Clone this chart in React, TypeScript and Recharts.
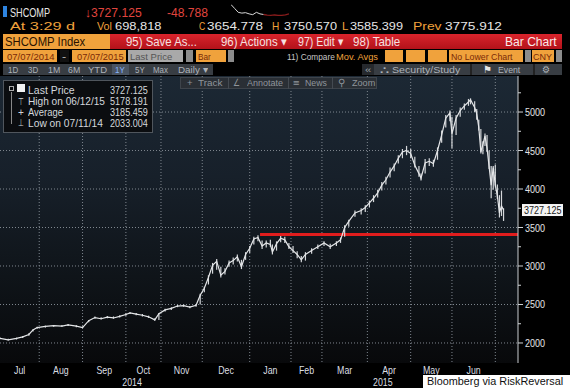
import React, { useLayoutEffect, useRef, useState } from "react";
import { ComposedChart, LineChart, Line, XAxis, YAxis, CartesianGrid, ReferenceLine, ErrorBar } from "recharts";

// trading-day index since 07/07/2014
const days = [
  0, 4, 8, 11, 14, 16, 18, 22, 26, 30, 33, 37, 40, 43, 46, 49, 52, 55, 58, 61,
  63, 66, 69, 72, 75, 77, 80, 83, 86, 89, 92, 95, 97, 99, 101, 103, 105, 107, 109, 111,
  113, 115, 117, 119, 121, 123, 125, 127, 129, 131, 132, 134, 136, 138, 140, 142, 144, 146, 148, 151,
  154, 157, 160, 163, 165, 167, 169, 172, 175, 177, 179, 181, 183, 185, 187, 189, 191, 193, 195, 197,
  199, 201, 203, 204, 206, 208, 210, 212, 214, 216, 218, 219, 221, 223, 225, 227, 228, 230, 231, 232,
  233, 234, 235, 236, 237, 238, 239, 240, 241, 242, 243, 244,
];
const closes = [
  2060, 2040, 2060, 2080, 2110, 2170, 2200, 2215, 2225, 2220, 2235, 2220, 2200, 2290, 2330, 2315, 2335, 2325, 2345, 2370,
  2390, 2375, 2360, 2340, 2300, 2380, 2430, 2450, 2480, 2485, 2465, 2490, 2620, 2710, 2850, 3010, 3060, 2880, 2930, 3040,
  3070, 3120, 2990, 3150, 3230, 3350, 3370, 3260, 3300, 3280, 3180, 3290, 3360, 3340, 3250, 3200, 3150, 3080, 3150, 3200,
  3250, 3300, 3250, 3300, 3340, 3500, 3580, 3690, 3720, 3760, 3820, 3880, 3950, 4050, 4120, 4220, 4300, 4400, 4480, 4500,
  4460, 4310, 4200, 4140, 4340, 4360, 4330, 4500, 4700, 4920, 4990, 4720, 4920, 5020, 5080, 5130, 5160, 5060, 4980, 4800,
  4480, 4580, 4690, 4530, 4290, 4050, 4280, 4050, 3910, 3690, 3780, 3727,
];
const highs = [
  2070, 2055, 2070, 2090, 2125, 2180, 2210, 2225, 2235, 2235, 2245, 2230, 2215, 2300, 2345, 2335, 2350, 2345, 2360, 2385,
  2400, 2390, 2375, 2355, 2320, 2390, 2445, 2465, 2495, 2500, 2480, 2500, 2640, 2730, 2880, 3040, 3090, 2990, 2970, 3070,
  3110, 3150, 3080, 3180, 3260, 3380, 3400, 3330, 3330, 3340, 3280, 3320, 3390, 3380, 3300, 3260, 3190, 3130, 3180, 3230,
  3280, 3320, 3290, 3320, 3370, 3530, 3600, 3720, 3750, 3790, 3850, 3920, 3990, 4090, 4160, 4280, 4330, 4440, 4520, 4560,
  4520, 4420, 4300, 4200, 4390, 4400, 4380, 4540, 4760, 4960, 5020, 4940, 4960, 5060, 5110, 5170, 5178, 5140, 5040, 4900,
  4780, 4620, 4720, 4700, 4500, 4300, 4300, 4320, 4060, 3920, 3980, 3750,
];
const lows = [
  2050, 2033, 2045, 2065, 2095, 2150, 2185, 2200, 2210, 2210, 2220, 2205, 2195, 2270, 2315, 2305, 2320, 2315, 2330, 2355,
  2375, 2360, 2345, 2325, 2290, 2300, 2410, 2430, 2465, 2470, 2450, 2470, 2500, 2660, 2760, 2900, 2950, 2850, 2890, 2990,
  3020, 3060, 2960, 3080, 3170, 3280, 3320, 3220, 3240, 3250, 3150, 3200, 3310, 3300, 3220, 3170, 3100, 3050, 3070, 3160,
  3220, 3260, 3220, 3260, 3300, 3380, 3510, 3640, 3670, 3700, 3760, 3830, 3890, 3980, 4060, 4150, 4230, 4330, 4400, 4440,
  4400, 4280, 4160, 4110, 4200, 4300, 4290, 4380, 4600, 4800, 4880, 4530, 4700, 4940, 5030, 5080, 5100, 5000, 4900, 4760,
  4460, 4450, 4560, 4480, 4260, 3880, 3990, 4030, 3870, 3630, 3650, 3585,
];

const monthStarts = [19, 40, 61, 78, 98, 121, 141, 156, 178, 199, 219, 240];
const monthMids = [9.5, 29.5, 50.5, 69.5, 88, 109.5, 131, 148.5, 167, 188.5, 209, 229.5];
const monthNames = ["Jul", "Aug", "Sep", "Oct", "Nov", "Dec", "Jan", "Feb", "Mar", "Apr", "May", "Jun"];
const yearMids = [64, 185.5];
const yearNames = ["2014", "2015"];
const priceTicks = [2000, 2250, 2500, 2750, 3000, 3250, 3500, 3750, 4000, 4250, 4500, 4750, 5000, 5250];
const gridPrices = [2000, 2500, 3000, 3500, 4000, 4500, 5000];
const supportLevel = 3410;
const supportFrom = 126;
const lastPrice = 3727.125;

const sparkWhite = [10, 7.5, 5, 4.5, 4.8, 4, 3.5, 5, 4, 3.6, null, null, null, null, null, null, null];
const sparkRed = [null, null, null, null, null, null, null, null, null, 3.6, 3.2, 3, 3.3, 3.1, 3, 3.4, 4];

const rows = days.map((d, i) => ({
  day: d,
  close: closes[i],
  err: [closes[i] - lows[i], highs[i] - closes[i]],
}));
const sparkRows = sparkWhite.map((w, i) => ({ i, w, r: sparkRed[i] }));

const FONT = '"Liberation Sans", Arial, sans-serif';
const AMBER = "#f0a23c";

// text squeezed horizontally to the width it has in the terminal font
function T({ x, y, w, size = 12, color = "#e6e6e6", children }: any) {
  const ref = useRef<HTMLDivElement>(null);
  const [s, setS] = useState(1);
  useLayoutEffect(() => {
    if (w && ref.current) {
      const nw = ref.current.scrollWidth;
      if (nw > 0) setS(w / nw);
    }
  }, [w]);
  return (
    <div
      ref={ref}
      style={{
        position: "absolute",
        left: x,
        top: y,
        fontSize: size,
        lineHeight: 1,
        color,
        whiteSpace: "nowrap",
        transform: `scaleX(${s})`,
        transformOrigin: "left top",
      }}
    >
      {children}
    </div>
  );
}

function Rect({ x, y, w, h, bg, border }: any) {
  return (
    <div
      style={{ position: "absolute", left: x, top: y, width: w, height: h, background: bg, border, boxSizing: "border-box" }}
    />
  );
}

const PriceTick = ({ x, y, payload }: any) => {
  const major = payload.value % 500 === 0;
  return (
    <g>
      <line x1={x} x2={x + (major ? 5 : 3)} y1={y} y2={y} stroke="#cfd3d6" strokeWidth={1} />
      {major && (
        <text
          transform={`translate(${x + 7} ${y + 4}) scale(0.82 1)`}
          fill="#e2e4e6"
          fontSize={11}
          fontFamily={FONT}
        >
          {payload.value}
        </text>
      )}
    </g>
  );
};

const MonthMark = ({ x, y, payload }: any) => (
  <line x1={x} x2={x} y1={y} y2={y + (payload.value === 121 ? 25 : 4)} stroke="#b9bec3" strokeWidth={1} />
);

const makeLabelTick = (vals: number[], names: string[], dy: number) => ({ x, y, payload }: any) => (
  <text
    transform={`translate(${x} ${y + dy}) scale(0.8 1)`}
    textAnchor="middle"
    fill="#dcdfe2"
    fontSize={11}
    fontFamily={FONT}
  >
    {names[vals.indexOf(payload.value)]}
  </text>
);
const MonthTick = makeLabelTick(monthMids, monthNames, 11);
const YearTick = makeLabelTick(yearMids, yearNames, 10);

const LastPriceLabel = ({ viewBox }: any) => {
  const bx = viewBox.x + viewBox.width + 4;
  return (
    <g>
      <rect x={bx} y={viewBox.y - 6} width={41} height={12} fill="#f4f4f4" />
      <text
        transform={`translate(${bx + 2} ${viewBox.y + 4}) scale(0.82 1)`}
        fill="#1a1a1a"
        fontSize={11}
        fontFamily={FONT}
      >
        {lastPrice.toFixed(3)}
      </text>
    </g>
  );
};

export default function App() {
  return (
    <div
      style={{
        position: "absolute",
        left: 0,
        top: 0,
        width: 570,
        height: 388,
        background: "#000",
        overflow: "hidden",
        fontFamily: FONT,
      }}
    >
      {/* row 1 */}
      <Rect x={3} y={6} w={4} h={11} bg="#2e84e0" />
      <T x={10} y={5.5} w={40} size={13}>SHCOMP</T>
      <T x={85} y={5.5} w={57} size={13} color="#e0453e">↓3727.125</T>
      <T x={167} y={5.5} w={41} size={13} color="#e0453e">-48.788</T>
      <div style={{ position: "absolute", left: 231, top: 2 }}>
        <LineChart width={58} height={16} data={sparkRows} margin={{ top: 1, right: 0, bottom: 1, left: 0 }}>
          <XAxis dataKey="i" hide />
          <YAxis hide domain={[2, 11]} />
          <Line dataKey="w" stroke="#d8d8d8" strokeWidth={1} dot={false} isAnimationActive={false} connectNulls={false} />
          <Line dataKey="r" stroke="#8a1c1c" strokeWidth={1.3} dot={false} isAnimationActive={false} connectNulls={false} />
        </LineChart>
      </div>

      {/* row 2 */}
      <T x={10} y={21.4} w={65} size={11.5} color={AMBER}>At 3:29 d</T>
      <T x={97} y={21.4} w={15} size={11.5} color={AMBER}>Vol</T>
      <T x={115} y={21.4} w={47} size={11.5}>698,818</T>
      <T x={199} y={21.4} w={6} size={11.5} color={AMBER}>C</T>
      <T x={207} y={21.4} w={56} size={11.5}>3654.778</T>
      <T x={272} y={21.4} w={7} size={11.5} color={AMBER}>H</T>
      <T x={284} y={21.4} w={53} size={11.5}>3750.570</T>
      <T x={342} y={21.4} w={6} size={11.5} color={AMBER}>L</T>
      <T x={350} y={21.4} w={53} size={11.5}>3585.399</T>
      <T x={413} y={21.4} w={29} size={11.5} color={AMBER}>Prev</T>
      <T x={445} y={21.4} w={57} size={11.5}>3775.912</T>

      {/* row 3 - red function bar */}
      <Rect x={3} y={34} w={559} h={15} bg="linear-gradient(#d9242c, #b3121a)" />
      <Rect x={3} y={34} w={107} h={15} bg={AMBER} />
      <T x={5} y={35.2} w={80} size={13} color="#2a1200">SHCOMP Index</T>
      <T x={126} y={35.2} w={71} size={13} color="#f6e0e0">95) Save As...</T>
      <T x={221} y={35.2} w={66} size={13} color="#f6e0e0">96) Actions ▾</T>
      <T x={298} y={35.2} w={45} size={13} color="#f6e0e0">97) Edit ▾</T>
      <T x={353} y={35.2} w={47} size={13} color="#f6e0e0">98) Table</T>
      <T x={505} y={35.2} w={52} size={13} color="#fbeaea">Bar Chart</T>

      {/* row 4 */}
      <Rect x={3} y={50} w={54} h={12} bg={AMBER} />
      <Rect x={60} y={50} w={9} h={12} bg="#111" />
      <Rect x={72} y={50} w={54} h={12} bg={AMBER} />
      <Rect x={128} y={50} w={55} h={12} bg="#a9a9a9" />
      <Rect x={186} y={50} w={7} h={12} bg="#8c8c8c" />
      <Rect x={196} y={50} w={30} h={12} bg={AMBER} />
      <Rect x={228} y={50} w={6} h={12} bg="#8c8c8c" />
      <Rect x={385} y={50} w={18} h={12} bg={AMBER} />
      <Rect x={406} y={50} w={19} h={12} bg={AMBER} />
      <Rect x={428} y={50} w={19} h={12} bg={AMBER} />
      <Rect x={449} y={50} w={74} h={12} bg={AMBER} />
      <Rect x={525} y={50} w={6} h={12} bg="#8c8c8c" />
      <Rect x={532} y={50} w={22} h={12} bg={AMBER} />
      <Rect x={556} y={50} w={6} h={12} bg="#8c8c8c" />
      <T x={7} y={51.6} w={48} size={9.5} color="#7a2a08">07/07/2014</T>
      <T x={62} y={51.6} w={4} size={9.5} color="#ccc">-</T>
      <T x={77} y={51.6} w={47} size={9.5} color="#7a2a08">07/07/2015</T>
      <T x={130} y={51.6} w={42} size={9.5} color="#555">Last Price</T>
      <T x={198} y={51.6} w={13} size={9.5} color="#7a2a08">Bar</T>
      <T x={287} y={51.6} w={48} size={9.5} color="#c6c6c6">11) Compare</T>
      <T x={336} y={51.6} w={42} size={9.5} color={AMBER}>Mov. Avgs</T>
      <T x={451} y={51.6} w={62} size={9.5} color="#7a2a08">No Lower Chart</T>
      <T x={533} y={51.6} w={19} size={9.5} color="#7a2a08">CNY</T>

      {/* row 5 */}
      <Rect x={3} y={64} w={210} h={11} bg="#383d43" />
      <T x={8} y={65} w={10} size={9.5} color="#aeb3ba">1D</T>
      <T x={28} y={65} w={10} size={9.5} color="#aeb3ba">3D</T>
      <T x={48} y={65} w={12} size={9.5} color="#aeb3ba">1M</T>
      <T x={68} y={65} w={12} size={9.5} color="#aeb3ba">6M</T>
      <T x={88} y={65} w={19} size={9.5} color="#aeb3ba">YTD</T>
      <Rect x={112} y={64} w={17} h={11} bg="#4a5461" />
      <T x={115} y={65} w={10} size={9.5} color="#86b4ff">1Y</T>
      <T x={135} y={65} w={10} size={9.5} color="#aeb3ba">5Y</T>
      <T x={153} y={65} w={15} size={9.5} color="#aeb3ba">Max</T>
      <T x={178} y={65} w={30} size={9.5} color="#aeb3ba">Daily ▾</T>
      <Rect x={362} y={64} w={200} h={11} bg="#383d43" />
      <Rect x={362} y={64} w={12} h={11} bg="#26292d" />
      <T x={365} y={65} w={6} size={9.5} color="#9aa0a6">«</T>
      <T x={380} y={65} w={9} size={9.5} color="#aeb3ba">⛬</T>
      <T x={392} y={65} w={68} size={9.5} color="#aeb3ba">Security/Study</T>
      <Rect x={470} y={64} w={2} h={11} bg="#222" />
      <T x={483} y={65} w={9} size={9.5} color="#e6e6e6">⚑</T>
      <T x={498} y={65} w={22} size={9.5} color="#aeb3ba">Event</T>
      <Rect x={533} y={64} w={2} h={11} bg="#222" />
      <T x={542} y={65} w={8} size={9.5} color="#aeb3ba">⚙</T>

      {/* plot background */}
      <Rect
        x={0}
        y={76}
        w={518}
        h={287}
        bg="linear-gradient(to bottom, #1c2834 0%, #17202a 35%, #0f1419 70%, #08090b 100%)"
      />

      <div style={{ position: "absolute", left: 0, top: 76 }}>
        <ComposedChart width={570} height={312} data={rows} margin={{ top: 0, right: 0, bottom: 0, left: 0 }}>
          <CartesianGrid
            xAxisId="b"
            stroke="#7f878f"
            strokeDasharray="1 2"
            verticalValues={monthStarts}
            horizontalValues={gridPrices}
          />
          <XAxis
            xAxisId="b"
            type="number"
            dataKey="day"
            domain={[0, 251]}
            ticks={monthStarts}
            height={0}
            tickSize={0}
            tickLine={false}
            tick={<MonthMark />}
            axisLine={{ stroke: "#c9cdd1" }}
            interval={0}
          />
          <XAxis
            xAxisId="m"
            type="number"
            dataKey="day"
            domain={[0, 251]}
            ticks={monthMids}
            height={13}
            tickSize={0}
            tickMargin={0}
            axisLine={false}
            tickLine={false}
            interval={0}
            tick={<MonthTick />}
          />
          <XAxis
            xAxisId="y"
            type="number"
            dataKey="day"
            domain={[0, 251]}
            ticks={yearMids}
            height={12}
            tickSize={0}
            tickMargin={0}
            axisLine={false}
            tickLine={false}
            interval={0}
            tick={<YearTick />}
          />
          <YAxis
            orientation="right"
            width={52}
            domain={[1740, 5468]}
            ticks={priceTicks}
            interval={0}
            tickSize={0}
            tickMargin={0}
            tickLine={false}
            tick={<PriceTick />}
            axisLine={{ stroke: "#c9cdd1" }}
          />
          <ReferenceLine
            xAxisId="b"
            segment={[
              { x: supportFrom, y: supportLevel },
              { x: 251, y: supportLevel },
            ]}
            stroke="#e11d1d"
            strokeWidth={3}
          />
          <ReferenceLine xAxisId="b" y={lastPrice} stroke="none" label={<LastPriceLabel />} />
          <Line
            xAxisId="b"
            dataKey="close"
            type="linear"
            stroke="#e4e6e8"
            strokeWidth={1.2}
            dot={false}
            isAnimationActive={false}
          >
            <ErrorBar dataKey="err" width={0} stroke="#d4d7da" strokeWidth={1.2} direction="y" isAnimationActive={false} />
          </Line>
        </ComposedChart>
      </div>

      {/* chart toolbar */}
      <Rect x={180} y={77} w={197} h={12} bg="#2a2f35" border="1px solid #3e444b" />
      <T x={187} y={78.2} w={6} size={9.5} color="#8f959c">+</T>
      <T x={198} y={78.2} w={24} size={9.5} color="#8f959c">Track</T>
      <Rect x={228} y={77} w={1} h={12} bg="#444a51" />
      <T x={233} y={78.2} w={7} size={9.5} color="#8f959c">∠</T>
      <T x={247} y={78.2} w={36} size={9.5} color="#8f959c">Annotate</T>
      <Rect x={288} y={77} w={1} h={12} bg="#444a51" />
      <T x={293} y={78.2} w={7} size={9.5} color="#8f959c">≡</T>
      <T x={305} y={78.2} w={22} size={9.5} color="#8f959c">News</T>
      <Rect x={332} y={77} w={1} h={12} bg="#444a51" />
      <T x={338} y={78.2} w={7} size={9.5} color="#8f959c">⚲</T>
      <T x={352} y={78.2} w={23} size={9.5} color="#8f959c">Zoom</T>

      {/* legend */}
      <Rect x={3} y={80} w={150} h={53} bg="#0b0d10" border="1px solid #50565d" />
      <Rect x={9} y={86} w={5} h={5} border="1px solid #aaa" />
      <Rect x={11} y={92} w={1} h={32} bg="#888" />
      <Rect x={17} y={84} w={8} h={8} bg="#f2f2f2" />
      <T x={18} y={96.5} w={6} size={10} color="#cfd3d7">⊤</T>
      <T x={18} y={107.5} w={6} size={10} color="#cfd3d7">+</T>
      <T x={18} y={118} w={6} size={10} color="#cfd3d7">⊥</T>
      <T x={28} y={85} w={47} size={10.5} color="#d4d8dc">Last Price</T>
      <T x={28} y={96.4} w={77} size={10.5} color="#d4d8dc">High on 06/12/15</T>
      <T x={28} y={107.4} w={35} size={10.5} color="#d4d8dc">Average</T>
      <T x={28} y={118} w={75} size={10.5} color="#d4d8dc">Low on 07/11/14</T>
      <T x={110} y={85} w={38} size={10.5} color="#d4d8dc">3727.125</T>
      <T x={110} y={96.4} w={38} size={10.5} color="#d4d8dc">5178.191</T>
      <T x={110} y={107.4} w={38} size={10.5} color="#d4d8dc">3185.459</T>
      <T x={110} y={118} w={38} size={10.5} color="#d4d8dc">2033.004</T>

      {/* credit */}
      <Rect x={423} y={375} w={147} h={13} bg="#fff" />
      <T x={427} y={376} w={136} size={11} color="#111">Bloomberg via RiskReversal</T>
    </div>
  );
}
